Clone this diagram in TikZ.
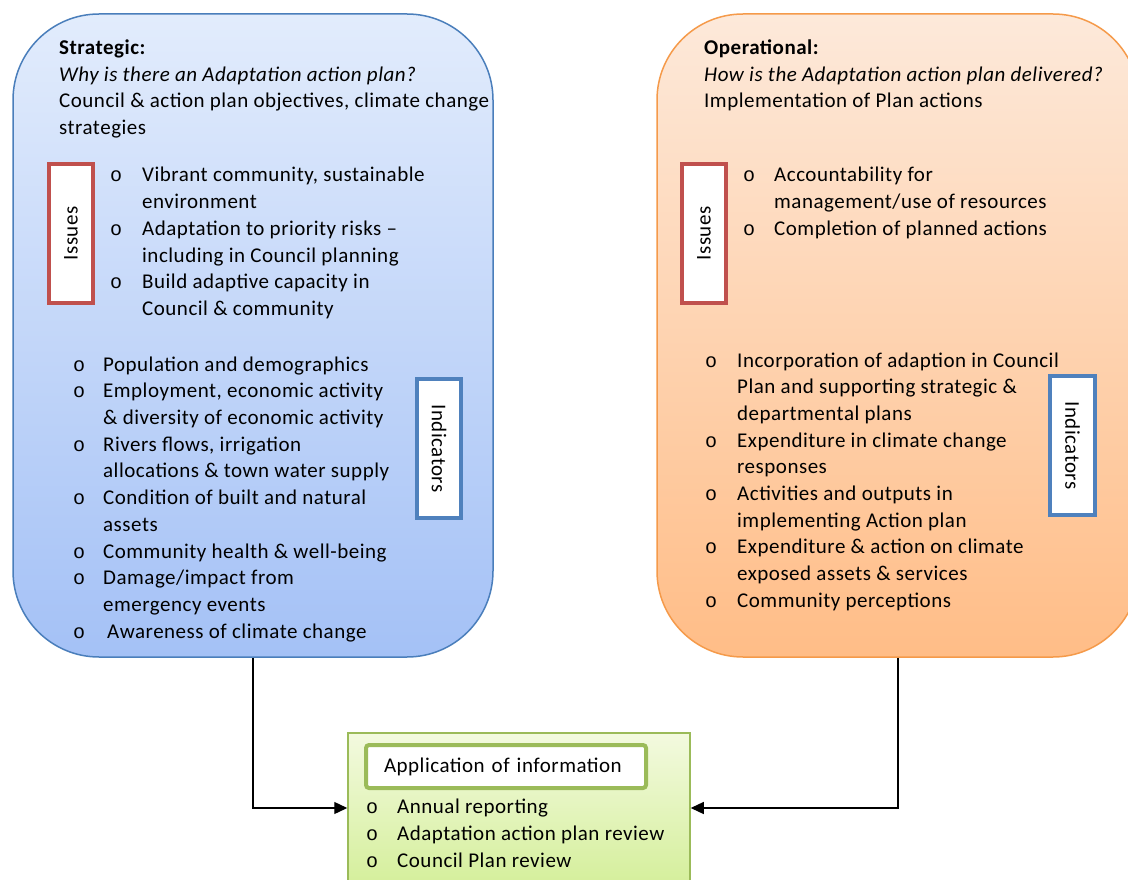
\documentclass[tikz,border=0pt]{standalone}
\usepackage{fontspec}
\setmainfont{Carlito}[LetterSpace=2.4]
\newfontfamily\bulfont{Liberation Mono}
\usetikzlibrary{arrows.meta}
\definecolor{blueTop}{HTML}{E2ECFC}
\definecolor{blueBot}{HTML}{A4C1F6}
\definecolor{blueLine}{HTML}{4A7EBB}
\definecolor{orTop}{HTML}{FDE9DA}
\definecolor{orBot}{HTML}{FFBD87}
\definecolor{orLine}{HTML}{F59A4A}
\definecolor{grTop}{HTML}{F3FADF}
\definecolor{grBot}{HTML}{D5EF9C}
\definecolor{grLine}{HTML}{9BBB59}
\definecolor{redLine}{HTML}{C0504D}
\definecolor{indLine}{HTML}{4F81BD}
\newcommand\bl[1]{\makebox[#1][l]{\bulfont\fontsize{20}{27}\selectfont o}}
\tikzset{
  txt/.style={anchor=base west, inner sep=0pt, font=\fontsize{21}{27}\selectfont},
  bigbox/.style={rectangle, rounded corners=86pt, line width=1.5pt, inner sep=0pt},
  tagbox/.style={rectangle, draw, fill=white, line width=4pt, inner sep=0pt,
    minimum width=139pt, minimum height=44pt, font=\fontsize{21}{24}\selectfont},
  arr/.style={-{Triangle[length=13pt,width=12pt]}, line width=1.3pt}
}
\begin{document}
\begin{tikzpicture}[x=1pt,y=-1pt]
\useasboundingbox (0,0) rectangle (1128,880);
\clip (0,0) rectangle (1128,880);
% main boxes
\node[bigbox, draw=blueLine, top color=blueTop, bottom color=blueBot,
  minimum width=480pt, minimum height=643pt] (strat) at (253,335.5) {};
\node[bigbox, draw=orLine, top color=orTop, bottom color=orBot,
  minimum width=482pt, minimum height=643pt] (oper) at (898,335.5) {};
\node[rectangle, draw=grLine, line width=1.5pt, top color=grTop, bottom color=grBot,
  minimum width=342pt, minimum height=150pt, inner sep=0pt] (app) at (519,808) {};
% connectors
\draw[arr] (strat.south) |- (app.west);
\draw[arr] (oper.south) |- (app.east);
% tag boxes
\node[tagbox, draw=redLine, rotate=90] (issL) at (71,233.5) {Issues};
\node[tagbox, draw=redLine, rotate=90] (issR) at (704,233.5) {Issues};
\node[tagbox, draw=indLine, rotate=-90] (indL) at (439,448.5) {Indicators};
\node[tagbox, draw=indLine, rotate=-90, minimum height=45pt] (indR) at (1072.5,445.5) {Indicators};
\node[rectangle, draw=grLine, fill=white, line width=4pt, rounded corners=3pt,
  minimum width=280pt, minimum height=43pt, text width=244pt, align=left,
  inner xsep=18pt, inner ysep=0pt, font=\fontsize{21}{24}\selectfont]
  (apptag) at (506,766.5) {Application of information};
% left header
\node[txt] (s1) at (59,55) {\textbf{Strategic:}};
\node[txt] (s2) at (59,82) {\textit{Why is there an Adaptation action plan?}};
\node[txt] (s3) at (59,108) {Council \& action plan objectives, climate change};
\node[txt] (s4) at (59,135) {strategies};
% left issues
\node[txt] (si1) at (110,182) {\bl{32pt}Vibrant community, sustainable};
\node[txt] (si2) at (142,208) {environment};
\node[txt] (si3) at (110,235) {\bl{32pt}Adaptation to priority risks --};
\node[txt] (si4) at (142,262) {including in Council planning};
\node[txt] (si5) at (110,288) {\bl{32pt}Build adaptive capacity in};
\node[txt] (si6) at (142,315) {Council \& community};
% left indicators
\node[txt] (sn1) at (73,371) {\bl{30pt}Population and demographics};
\node[txt] (sn2) at (73,397.7) {\bl{30pt}Employment, economic activity};
\node[txt] (sn3) at (103,424.4) {\& diversity of economic activity};
\node[txt] (sn4) at (73,451) {\bl{30pt}Rivers flows, irrigation};
\node[txt] (sn5) at (103,477.8) {allocations \& town water supply};
\node[txt] (sn6) at (73,504.5) {\bl{30pt}Condition of built and natural};
\node[txt] (sn7) at (103,531) {assets};
\node[txt] (sn8) at (73,558) {\bl{30pt}Community health \& well-being};
\node[txt] (sn9) at (73,584.6) {\bl{30pt}Damage/impact from};
\node[txt] (sn10) at (103,611.3) {emergency events};
\node[txt] (sn11) at (73,638) {\bl{34pt}Awareness of climate change};
% right header
\node[txt] (o1) at (704,55) {\textbf{Operational:}};
\node[txt] (o2) at (704,82) {\textit{How is the Adaptation action plan delivered?}};
\node[txt] (o3) at (704,108) {Implementation of Plan actions};
% right issues
\node[txt] (oi1) at (743,182) {\bl{31pt}Accountability for};
\node[txt] (oi2) at (774,208) {management/use of resources};
\node[txt] (oi3) at (743,235) {\bl{31pt}Completion of planned actions};
% right indicators
\node[txt] (on1) at (705,367) {\bl{32pt}Incorporation of adaption in Council};
\node[txt] (on2) at (737,393.7) {Plan and supporting strategic \&};
\node[txt] (on3) at (737,420.4) {departmental plans};
\node[txt] (on4) at (705,447.1) {\bl{32pt}Expenditure in climate change};
\node[txt] (on5) at (737,473.8) {responses};
\node[txt] (on6) at (705,500.5) {\bl{32pt}Activities and outputs in};
\node[txt] (on7) at (737,527.2) {implementing Action plan};
\node[txt] (on8) at (705,553.9) {\bl{32pt}Expenditure \& action on climate};
\node[txt] (on9) at (737,580.6) {exposed assets \& services};
\node[txt] (on10) at (705,607.3) {\bl{32pt}Community perceptions};
% application list
\node[txt] (a1) at (366,813) {\bl{31pt}Annual reporting};
\node[txt] (a2) at (366,840) {\bl{31pt}Adaptation action plan review};
\node[txt] (a3) at (366,867) {\bl{31pt}Council Plan review};
\end{tikzpicture}
\end{document}
